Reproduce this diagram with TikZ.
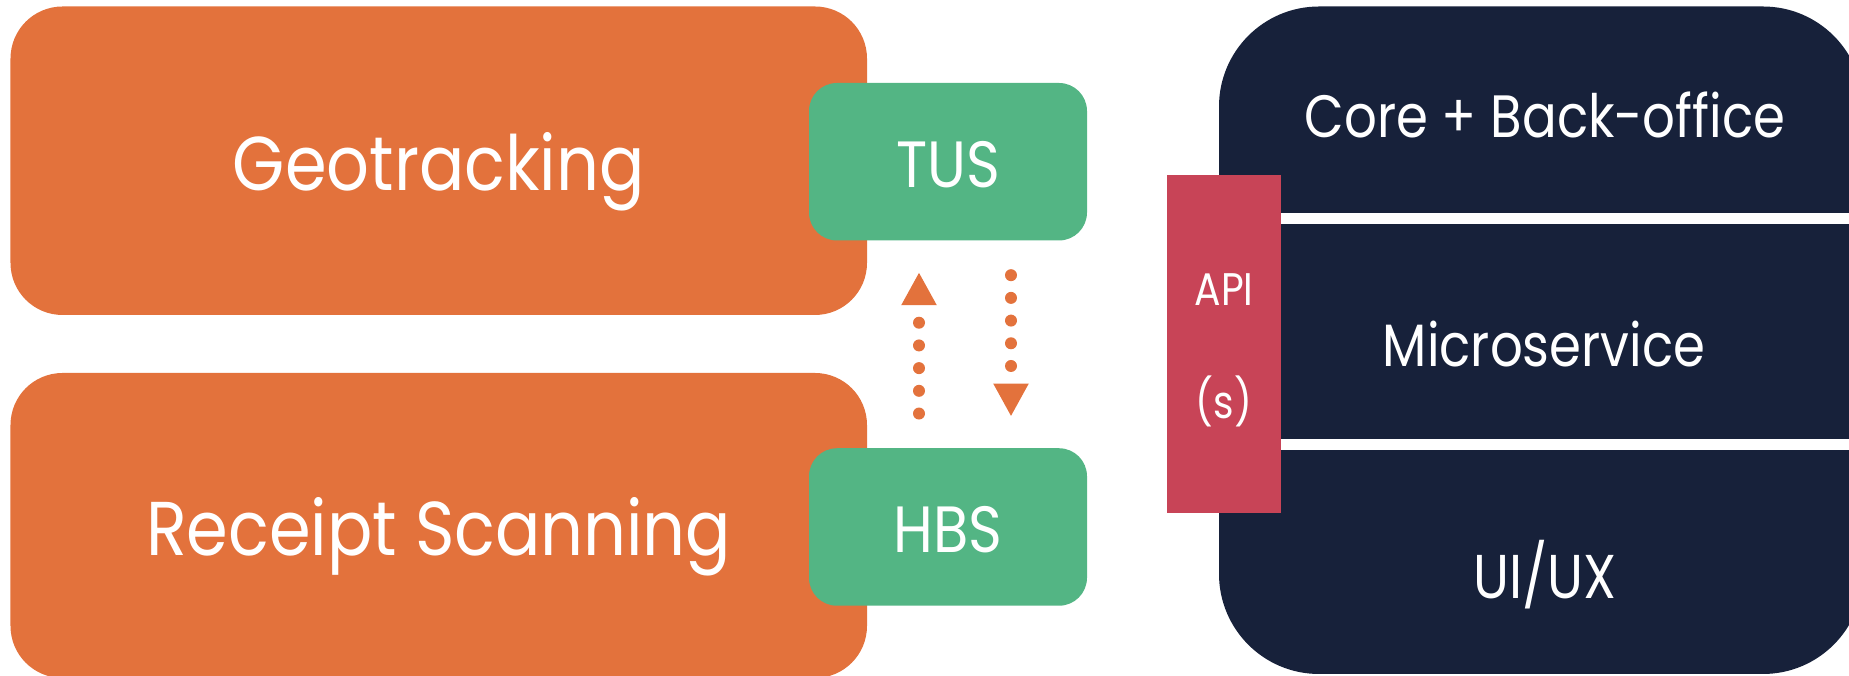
\documentclass[tikz,border=0pt]{standalone}
\usepackage{fontspec}
\setmainfont{Poppins}
\newfontfamily\tagfont[FakeStretch=0.88]{Poppins}
\newfontfamily\layerfont[FakeStretch=0.86]{Poppins}
\usepackage{xcolor}
\usetikzlibrary{arrows.meta}

\definecolor{featorange}{HTML}{E3723C}
\definecolor{svcgreen}{HTML}{53B584}
\definecolor{platnavy}{HTML}{17213A}
\definecolor{apired}{HTML}{C84457}

\tikzset{
  feature/.style={fill=featorange, rounded corners=0.52cm, inner sep=0pt,
    minimum width=8.565cm, text=white, text height=0.595cm, text depth=0pt,
    font=\tagfont\fontsize{21.7}{26}\selectfont},
  service/.style={fill=svcgreen, rounded corners=0.28cm, inner sep=0pt,
    minimum width=2.78cm, minimum height=1.575cm, text=white,
    text height=0.52cm, text depth=0pt,
    font=\tagfont\fontsize{18.6}{22}\selectfont},
  layer/.style={text=white, inner sep=0pt, text height=0.42cm, text depth=0pt,
    font=\layerfont\fontsize{17}{20}\selectfont},
  layerline/.style={draw=white, line width=0.11cm},
  flow/.style={draw=featorange, line width=0.12cm, line cap=round,
    dash pattern=on 0pt off 0.227cm, shorten <=0.34cm, shorten >=0.31cm,
    -{Triangle[width=0.33cm,length=0.33cm]}}
}

\begin{document}
\begin{tikzpicture}
\useasboundingbox (0,0) rectangle (18.49,6.76);
% feature boxes
\node[feature, minimum height=3.085cm] (geo) at (4.3875,5.1525) {Geotracking};
\node[feature, minimum height=3.05cm] (receipt) at (4.3875,1.505) {Receipt Scanning};
\node[service] (tus) at (9.48,5.1425) {TUS};
\node[service] (hbs) at (9.48,1.49) {HBS};
\draw[flow] ([xshift=-0.29cm]hbs.north) -- ([xshift=-0.29cm]tus.south);
\draw[flow] ([xshift=0.63cm]tus.south) -- ([xshift=0.63cm]hbs.north);
% platform stack
\node[fill=platnavy, rounded corners=1cm, inner sep=0pt,
  minimum width=6.44cm, minimum height=6.675cm] (stack) at (15.41,3.3575) {};
\draw[layerline] (12.19,4.57) -- (18.63,4.57);
\draw[layerline] (12.19,2.315) -- (18.63,2.315);
\node[layer] (core) at (15.45,5.59) {Core + Back-office};
\node[layer] (micro) at (15.44,3.30) {Microservice};
\node[layer, font=\layerfont\fontsize{17.6}{20}\selectfont] (uiux) at (15.45,0.984) {UI/UX};
\node[fill=apired, text=white, inner sep=0pt, minimum width=1.14cm,
  minimum height=3.38cm, align=center, text height=1.5cm, text depth=0pt,
  font=\layerfont\fontsize{13}{32.4}\selectfont] (api) at (12.24,3.32) {API\\(s)};
\end{tikzpicture}
\end{document}
